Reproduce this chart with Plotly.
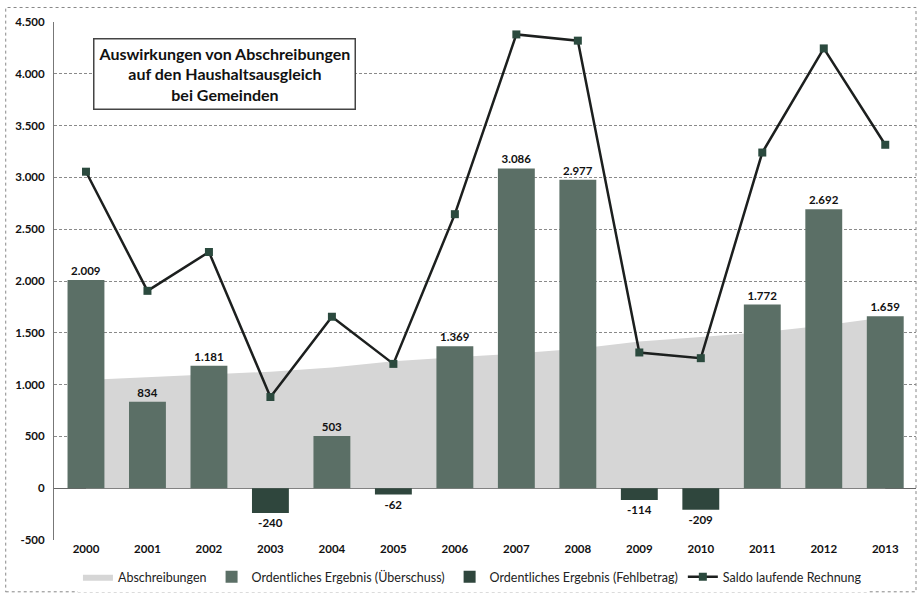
import plotly.graph_objects as go

years = [2000, 2001, 2002, 2003, 2004, 2005, 2006, 2007, 2008, 2009, 2010, 2011, 2012, 2013]
abschreibungen = [1045, 1070, 1095, 1125, 1165, 1225, 1265, 1300, 1345, 1415, 1460, 1505, 1570, 1650]
ueberschuss = [2009, 834, 1181, None, 503, None, 1369, 3086, 2977, None, None, 1772, 2692, 1659]
fehlbetrag = [None, None, None, -240, None, -62, None, None, None, -114, -209, None, None, None]
saldo = [3055, 1905, 2280, 880, 1655, 1200, 2645, 4380, 4320, 1310, 1255, 3240, 4245, 3315]
y_ticks = [-500, 0, 500, 1000, 1500, 2000, 2500, 3000, 3500, 4000, 4500]

FONT = "Lato"
fig = go.Figure()

fig.add_trace(go.Scatter(
    x=years, y=abschreibungen, name="Abschreibungen", mode="lines",
    line=dict(width=0, color="#d6d6d6"), fill="tozeroy", fillcolor="#d6d6d6",
    xaxis="x", yaxis="y", hoverinfo="skip"))

fig.add_trace(go.Bar(
    x=years, y=ueberschuss, name="Ordentliches Ergebnis (Überschuss)",
    marker=dict(color="#5b6f66", line=dict(width=0)), width=0.6,
    texttemplate="<b>%{y:,}</b>", textposition="outside", cliponaxis=False,
    textfont=dict(family=FONT, size=11.5, color="#111111"),
    xaxis="x2", yaxis="y2", hoverinfo="skip"))

fig.add_trace(go.Bar(
    x=years, y=fehlbetrag, name="Ordentliches Ergebnis (Fehlbetrag)",
    marker=dict(color="#2f463d", line=dict(width=0)), width=0.6,
    texttemplate="<b>%{y:,}</b>", textposition="outside", cliponaxis=False,
    textfont=dict(family=FONT, size=11.5, color="#111111"),
    xaxis="x2", yaxis="y2", hoverinfo="skip"))

fig.add_trace(go.Scatter(
    x=years, y=saldo, name="Saldo laufende Rechnung", mode="lines+markers",
    line=dict(color="#1c1f1e", width=2.5),
    marker=dict(symbol="square", size=8, color="#2b4a3e"),
    xaxis="x2", yaxis="y2", hoverinfo="skip"))

xr = [1999.48, 2013.5]
yr = [-500, 4500]

fig.update_layout(
    width=917, height=595,
    margin=dict(l=54, r=1, t=22, b=55, autoexpand=False),
    paper_bgcolor="white", plot_bgcolor="white",
    separators=",.",
    barmode="overlay",
    showlegend=True,
    font=dict(family=FONT, size=11, color="#111111"),
    legend=dict(orientation="h", x=0.085, xref="container", y=0.03, yref="container",
                xanchor="left", yanchor="middle",
                font=dict(family=FONT, size=12.5, color="#222222"),
                itemwidth=30, tracegroupgap=0),
    xaxis=dict(range=xr, tickmode="array", tickvals=years,
               ticktext=["<b>%d</b>" % y for y in years],
               showgrid=False, zeroline=False, showline=False, ticks="",
               tickfont=dict(family=FONT, size=11.5, color="#111111")),
    yaxis=dict(range=yr, tickmode="array", tickvals=y_ticks,
               ticktext=["<b>%s</b>" % format(v, ",d").replace(",", ".") for v in y_ticks],
               showgrid=True, gridcolor="#8a8a8a", griddash="3px,2px", gridwidth=1,
               zeroline=True, zerolinecolor="#666666", zerolinewidth=1,
               showline=True, linecolor="#777777", linewidth=1, ticks="", ticklen=0,
               ticklabelstandoff=6,
               tickfont=dict(family=FONT, size=11.5, color="#111111")),
    xaxis2=dict(range=xr, overlaying="x", anchor="y2", visible=False),
    yaxis2=dict(range=yr, overlaying="y", anchor="x2", visible=False),
)

fig.add_annotation(
    xref="paper", yref="paper", x=0.198, y=0.90, xanchor="center", yanchor="middle",
    text="<b>Auswirkungen von Abschreibungen<br>auf den Haushaltsausgleich<br>bei Gemeinden</b>",
    showarrow=False, align="center", font=dict(family=FONT, size=16, color="#111111"),
    bgcolor="white", bordercolor="#444444", borderwidth=1.5, borderpad=4)

fig.add_shape(type="rect", xref="paper", yref="paper",
              x0=-0.056, x1=1.0, y0=-0.10, y1=1.028,
              line=dict(color="#888888", width=1, dash="dot"), layer="below")

fig.write_html("out.html")
